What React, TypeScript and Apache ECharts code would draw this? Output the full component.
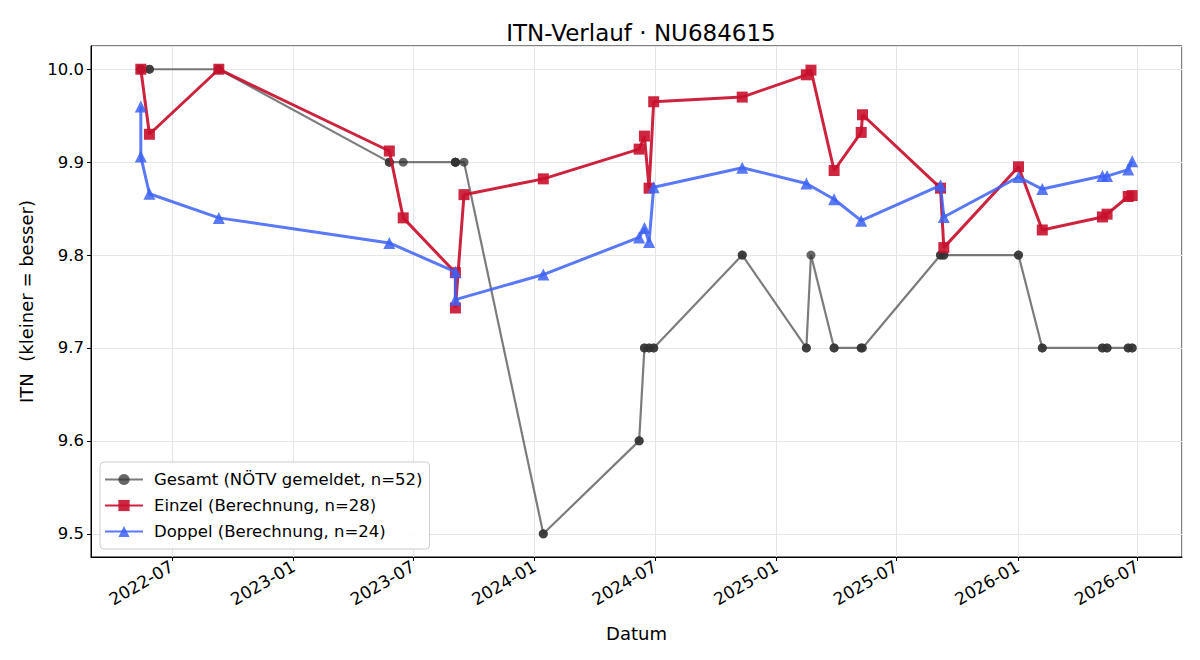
import React, { useEffect, useRef } from "react";
import * as echarts from "echarts";

const gesamtDates = [
  "2022-05-15", "2022-05-15", "2022-05-15", "2022-05-28", "2022-05-28",
  "2022-09-10", "2022-09-10", "2023-05-26", "2023-05-26", "2023-06-16",
  "2023-09-03", "2023-09-03", "2023-09-03", "2023-09-03", "2023-09-16",
  "2024-01-14", "2024-01-14", "2024-06-07", "2024-06-07", "2024-06-15",
  "2024-06-15", "2024-06-22", "2024-06-22", "2024-06-29", "2024-06-29",
  "2024-11-10", "2024-11-10", "2025-02-15", "2025-02-15", "2025-02-22",
  "2025-03-29", "2025-03-29", "2025-05-09", "2025-05-09", "2025-05-11",
  "2025-09-06", "2025-09-06", "2025-09-11", "2025-09-11", "2026-01-02",
  "2026-01-02", "2026-02-07", "2026-02-07", "2026-05-09", "2026-05-09",
  "2026-05-16", "2026-05-16", "2026-06-17", "2026-06-17", "2026-06-23",
  "2026-06-23",
];
const gesamtValues = [
  10.0, 10.0, 10.0, 10.0, 10.0,
  10.0, 10.0, 9.9, 9.9, 9.9,
  9.9, 9.9, 9.9, 9.9, 9.9,
  9.5, 9.5, 9.6, 9.6, 9.7,
  9.7, 9.7, 9.7, 9.7, 9.7,
  9.8, 9.8, 9.7, 9.7, 9.8,
  9.7, 9.7, 9.7, 9.7, 9.7,
  9.8, 9.8, 9.8, 9.8, 9.8,
  9.8, 9.7, 9.7, 9.7, 9.7,
  9.7, 9.7, 9.7, 9.7, 9.7,
  9.7,
];

const einzelDates = [
  "2022-05-15", "2022-05-28", "2022-09-10", "2023-05-26", "2023-06-16",
  "2023-09-03", "2023-09-03", "2023-09-16", "2024-01-14", "2024-06-07",
  "2024-06-15", "2024-06-22", "2024-06-29", "2024-11-10", "2025-02-15",
  "2025-02-22", "2025-03-29", "2025-05-09", "2025-05-11", "2025-09-06",
  "2025-09-11", "2026-01-02", "2026-02-07", "2026-05-09", "2026-05-16",
  "2026-06-17", "2026-06-23",
];
const einzelValues = [
  10.0, 9.93, 10.0, 9.912, 9.84,
  9.781, 9.743, 9.865, 9.882, 9.914,
  9.928, 9.872, 9.965, 9.97, 9.994,
  9.999, 9.891, 9.932, 9.951, 9.872,
  9.808, 9.895, 9.827, 9.841, 9.844,
  9.863, 9.864,
];

const doppelDates = [
  "2022-05-15", "2022-05-15", "2022-05-28", "2022-09-10", "2023-05-26",
  "2023-09-03", "2023-09-03", "2024-01-14", "2024-06-07", "2024-06-15",
  "2024-06-22", "2024-06-29", "2024-11-10", "2025-02-15", "2025-03-29",
  "2025-05-09", "2025-09-06", "2025-09-11", "2026-01-02", "2026-02-07",
  "2026-05-09", "2026-05-16", "2026-06-17", "2026-06-23",
];
const doppelValues = [
  9.96, 9.906, 9.866, 9.84, 9.813,
  9.782, 9.752, 9.779, 9.819, 9.829,
  9.814, 9.873, 9.894, 9.877, 9.86,
  9.837, 9.875, 9.841, 9.884, 9.871,
  9.885, 9.885, 9.892, 9.901,
];

const seriesNames = [
  "Gesamt (NÖTV gemeldet, n=52)",
  "Einzel (Berechnung, n=28)",
  "Doppel (Berechnung, n=24)",
];

const DAY = 86400000;
const toPts = (d: string[], v: number[]) => d.map((s, i) => [Date.parse(s), v[i]]);

export default function App() {
  const ref = useRef<HTMLDivElement>(null);
  useEffect(() => {
    if (!ref.current) return;
    const chart = echarts.init(ref.current, undefined, { renderer: "svg" });
    const font = "DejaVu Sans";
    const ref0 = Date.parse("2022-07-01");
    chart.setOption({
      animation: false,
      useUTC: true,
      textStyle: { fontFamily: font },
      title: {
        text: "ITN-Verlauf · NU684615",
        left: 636,
        top: 16,
        textAlign: "center",
        textStyle: { fontFamily: font, fontSize: 23, fontWeight: "normal", color: "#000" },
      },
      grid: {
        left: 91, right: 18, top: 46, bottom: 103,
        show: true, borderColor: "#000", borderWidth: 1, backgroundColor: "transparent",
      },
      legend: {
        orient: "vertical",
        left: 100,
        top: 462,
        padding: [9, 7, 9, 4],
        itemWidth: 38,
        itemHeight: 14,
        itemGap: 9,
        backgroundColor: "rgba(255,255,255,0.85)",
        borderColor: "#cccccc",
        borderWidth: 1,
        borderRadius: 4,
        textStyle: { fontFamily: font, fontSize: 16.5, lineHeight: 14, color: "#000", padding: [0, 0, 0, 6] },
        data: seriesNames,
      },
      xAxis: {
        type: "time",
        min: ref0 - 122.4 * DAY,
        max: ref0 + 1528.4 * DAY,
        splitNumber: 9,
        name: "Datum",
        nameLocation: "middle",
        nameGap: 67,
        nameTextStyle: { fontFamily: font, fontSize: 18, color: "#000" },
        axisLine: { lineStyle: { color: "#000" } },
        axisTick: { show: true, length: 4, lineStyle: { color: "#000" } },
        minorTick: { show: false },
        axisLabel: {
          formatter: "{yyyy}-{MM}",
          rotate: 30,
          fontFamily: font,
          fontSize: 17,
          color: "#000",
          margin: 8,
          hideOverlap: false,
        },
        splitLine: { show: true, lineStyle: { color: "#e6e6e6", width: 1 } },
      },
      yAxis: {
        type: "value",
        min: 9.475,
        max: 10.025,
        splitNumber: 5,
        name: "ITN  (kleiner = besser)",
        nameLocation: "middle",
        nameGap: 56,
        nameRotate: 90,
        nameTextStyle: { fontFamily: font, fontSize: 18, color: "#000" },
        axisLine: { show: true, lineStyle: { color: "#000" } },
        axisTick: { show: true, length: 4, lineStyle: { color: "#000" } },
        axisLabel: {
          formatter: (v: number) => v.toFixed(1),
          showMinLabel: false,
          showMaxLabel: false,
          fontFamily: font,
          fontSize: 16.5,
          color: "#000",
          margin: 7,
        },
        splitLine: { show: true, lineStyle: { color: "#e6e6e6", width: 1 } },
      },
      series: [
        {
          name: seriesNames[0],
          type: "line",
          data: toPts(gesamtDates, gesamtValues),
          symbol: "circle",
          symbolSize: 9,
          showAllSymbol: true,
          lineStyle: { color: "#444444", width: 2.2, opacity: 0.7 },
          itemStyle: { color: "#333333", opacity: 0.75 },
          z: 2,
        },
        {
          name: seriesNames[1],
          type: "line",
          data: toPts(einzelDates, einzelValues),
          symbol: "rect",
          symbolSize: 11,
          showAllSymbol: true,
          lineStyle: { color: "#c8102e", width: 3, opacity: 0.92 },
          itemStyle: { color: "#c8102e", opacity: 0.9 },
          z: 3,
        },
        {
          name: seriesNames[2],
          type: "line",
          data: toPts(doppelDates, doppelValues),
          symbol: "triangle",
          symbolSize: 12,
          showAllSymbol: true,
          lineStyle: { color: "#3d62f5", width: 3, opacity: 0.85 },
          itemStyle: { color: "#3d62f5", opacity: 0.85 },
          z: 4,
        },
      ],
    });
    return () => chart.dispose();
  }, []);
  return <div ref={ref} style={{ width: 1200, height: 660, position: "absolute", left: 0, top: 0 }} />;
}
